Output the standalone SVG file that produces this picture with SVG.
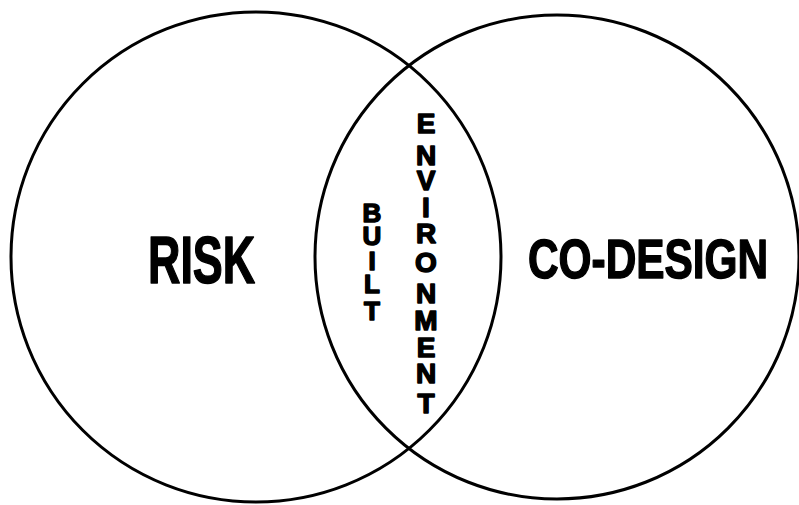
<svg xmlns="http://www.w3.org/2000/svg" width="799" height="505" viewBox="0 0 799 505">
<style>
.c{fill:none;stroke:#000;stroke-width:3}
.t{font-family:"Liberation Sans",Arial,sans-serif;font-weight:bold;fill:#000;stroke:#000;stroke-width:1.5;stroke-linejoin:round}
.v{text-anchor:middle}
</style>
<rect width="799" height="505" fill="#fff"/>
<g id="risk">
<circle class="c" cx="256" cy="257" r="245"/>
<text class="t" transform="translate(148,283) scale(0.68,1)" x="0" y="0" font-size="66">RISK</text>
</g>
<g id="codesign">
<circle class="c" cx="557" cy="257" r="242"/>
<text class="t" transform="translate(528,278) scale(0.757,1)" x="0" y="0" font-size="56">CO-DESIGN</text>
</g>
<g id="built">
<text class="t v" font-size="26" x="372" y="222">B</text>
<text class="t v" font-size="26" x="372" y="245">U</text>
<text class="t v" font-size="26" x="372" y="270">I</text>
<text class="t v" font-size="26" x="372" y="293">L</text>
<text class="t v" font-size="26" x="372" y="320">T</text>
</g>
<g id="environment">
<text class="t v" font-size="28" x="426" y="133">E</text>
<text class="t v" font-size="28" x="426" y="165">N</text>
<text class="t v" font-size="28" x="426" y="190">V</text>
<text class="t v" font-size="28" x="426" y="217">I</text>
<text class="t v" font-size="28" x="426" y="243">R</text>
<text class="t v" font-size="28" x="426" y="272">O</text>
<text class="t v" font-size="28" x="426" y="303">N</text>
<text class="t v" font-size="28" x="426" y="330">M</text>
<text class="t v" font-size="28" x="426" y="357">E</text>
<text class="t v" font-size="28" x="426" y="383">N</text>
<text class="t v" font-size="28" x="426" y="413">T</text>
</g>
<g id="connectors"></g>
</svg>
